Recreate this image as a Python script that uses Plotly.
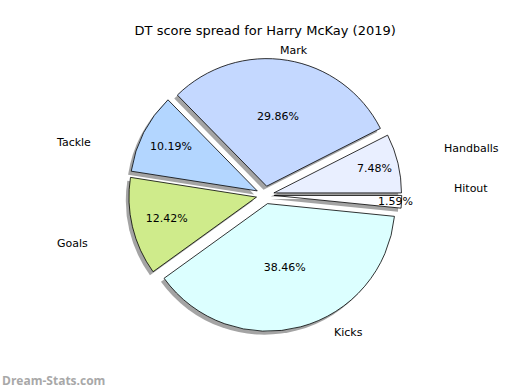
import numpy as np
import plotly.graph_objects as go

labels = ["Hitout", "Handballs", "Mark", "Tackle", "Goals", "Kicks"]
values = [1.59, 7.48, 29.86, 10.19, 12.42, 38.46]
colors = ["#fdfdff", "#e9efff", "#c4d8ff", "#b3d6ff", "#cfeb8b", "#dcffff"]
title = "DT score spread for Harry McKay (2019)"
watermark = "Dream-Stats.com"

W, H = 520, 390
pull = [0.07] * len(values)
dom_x = [0.02, 1.0]
dom_y = [0.15, 0.85]
sx, sy = 0.006, 0.009

fig = go.Figure()
# shadow
fig.add_trace(go.Pie(
    labels=labels, values=values, sort=False, direction="counterclockwise",
    rotation=90, pull=pull, textinfo="none", hoverinfo="skip", automargin=False,
    marker=dict(colors=["rgba(90,90,90,0.55)"] * len(values), line=dict(width=0)),
    domain=dict(x=[dom_x[0] - sx, dom_x[1] - sx], y=[dom_y[0] - sy, dom_y[1] - sy]),
    showlegend=False,
))
# main pie with percent inside
fig.add_trace(go.Pie(
    labels=labels, values=values, sort=False, direction="counterclockwise",
    rotation=90, pull=pull, textinfo="percent", texttemplate="%{percent:.2%}",
    textposition="inside", insidetextorientation="horizontal", automargin=False,
    textfont=dict(family="DejaVu Sans", size=11, color="black"),
    marker=dict(colors=colors, line=dict(color="black", width=0.8)),
    domain=dict(x=dom_x, y=dom_y), showlegend=False,
))

# category labels placed around the pie (like matplotlib's labeldistance)
cx, cy = 266 / W, 1 - 196 / H
rx, ry = 186 / W, 146 / H
vals = np.array(values, dtype=float)
cum = np.concatenate([[0], np.cumsum(vals)]) / vals.sum() * 360.0
mids = np.deg2rad((cum[:-1] + cum[1:]) / 2)
annots = []
for lab, a in zip(labels, mids):
    c, s = np.cos(a), np.sin(a)
    annots.append(dict(text=lab, xref="paper", yref="paper",
                       x=cx + rx * c, y=cy + ry * s,
                       xanchor="left" if c > 0 else "right", yanchor="middle",
                       showarrow=False,
                       font=dict(family="DejaVu Sans", size=11, color="black")))
annots.append(dict(text="<b>" + watermark + "</b>", xref="paper", yref="paper",
                   x=0.0, y=1 - 380 / H, xanchor="left", yanchor="middle",
                   showarrow=False,
                   font=dict(family="Open Sans", size=12, color="#a8a8a8")))

fig.update_layout(
    width=W, height=H, margin=dict(l=0, r=0, t=0, b=0, autoexpand=False),
    paper_bgcolor="white", plot_bgcolor="white",
    uniformtext=dict(minsize=11, mode="show"),
    title=dict(text=title, x=0.51, xanchor="center", y=1 - 30 / H, yanchor="middle",
               font=dict(family="DejaVu Sans", size=13, color="black")),
    annotations=annots,
)
fig.write_html("out.html")
